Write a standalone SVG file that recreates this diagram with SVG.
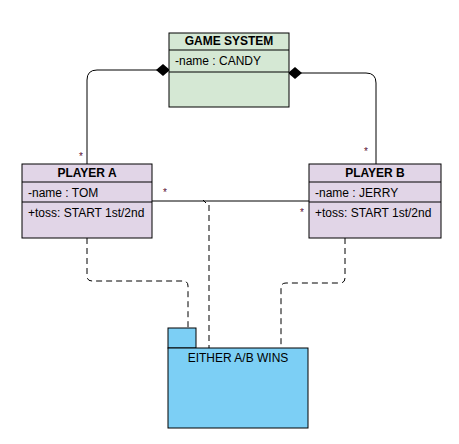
<svg xmlns="http://www.w3.org/2000/svg" width="459" height="444" viewBox="0 0 459 444">
<style>
.box{stroke:#000;stroke-width:1}
.t{font-family:"Liberation Sans",Arial,sans-serif;font-size:12px;fill:#000}
.b{font-weight:bold;text-anchor:middle}
.line{fill:none;stroke:#000;stroke-width:1}
.dash{fill:none;stroke:#000;stroke-width:1;stroke-dasharray:6 4}
.m{font-family:"Liberation Sans",Arial,sans-serif;font-size:10px;fill:#5a1030;text-anchor:middle}
</style>
<defs>
<marker id="diamond" markerWidth="14" markerHeight="12" refX="13" refY="6" orient="auto" markerUnits="userSpaceOnUse">
<path d="M0,6 L7,0 L14,6 L7,12 Z" fill="#000"/>
</marker>
</defs>
<rect width="459" height="444" fill="#fff"/>
<g id="connectors">
<path class="line" d="M87,164 V80 Q87,70 97,70 H169" marker-end="url(#diamond)"/>
<path class="line" d="M376,164 V83 Q376,73 366,73 H289" marker-end="url(#diamond)"/>
<path class="line" d="M152,201 H309"/>
<path class="dash" d="M87,238 V276 Q87,281 92,281 H183 Q188,281 188,286 V328"/>
<path class="dash" d="M345,238 V278 Q345,283 340,283 H286 Q281,283 281,288 V348"/>
<path class="dash" d="M209,205 V348"/>
<path class="line" d="M203,200 L206,203"/>
<text class="m" x="81" y="160">*</text>
<text class="m" x="366" y="155">*</text>
<text class="m" x="165" y="196">*</text>
<text class="m" x="302" y="216">*</text>
</g>
<g id="game-system">
<rect class="box" x="169" y="33" width="120" height="74" fill="#d5e8d4"/>
<line class="box" x1="169" y1="50" x2="289" y2="50"/>
<line class="box" x1="169" y1="72" x2="289" y2="72"/>
<text class="t b" x="229" y="45">GAME SYSTEM</text>
<text class="t" x="175" y="65">-name : CANDY</text>
</g>
<g id="player-a">
<rect class="box" x="22" y="164" width="130" height="74" fill="#e1d5e7"/>
<line class="box" x1="22" y1="182" x2="152" y2="182"/>
<line class="box" x1="22" y1="202" x2="152" y2="202"/>
<text class="t b" x="87" y="177">PLAYER A</text>
<text class="t" x="28" y="197">-name : TOM</text>
<text class="t" x="28" y="217">+toss: START 1st/2nd</text>
</g>
<g id="player-b">
<rect class="box" x="309" y="164" width="132" height="74" fill="#e1d5e7"/>
<line class="box" x1="309" y1="182" x2="441" y2="182"/>
<line class="box" x1="309" y1="202" x2="441" y2="202"/>
<text class="t b" x="375" y="177">PLAYER B</text>
<text class="t" x="315" y="197">-name : JERRY</text>
<text class="t" x="315" y="217">+toss: START 1st/2nd</text>
</g>
<g id="package">
<rect class="box" x="168" y="328" width="28" height="20" fill="#7ccff5"/>
<rect class="box" x="168" y="348" width="140" height="80" fill="#7ccff5"/>
<text class="t" x="238" y="362" text-anchor="middle">EITHER A/B WINS</text>
</g>
</svg>
